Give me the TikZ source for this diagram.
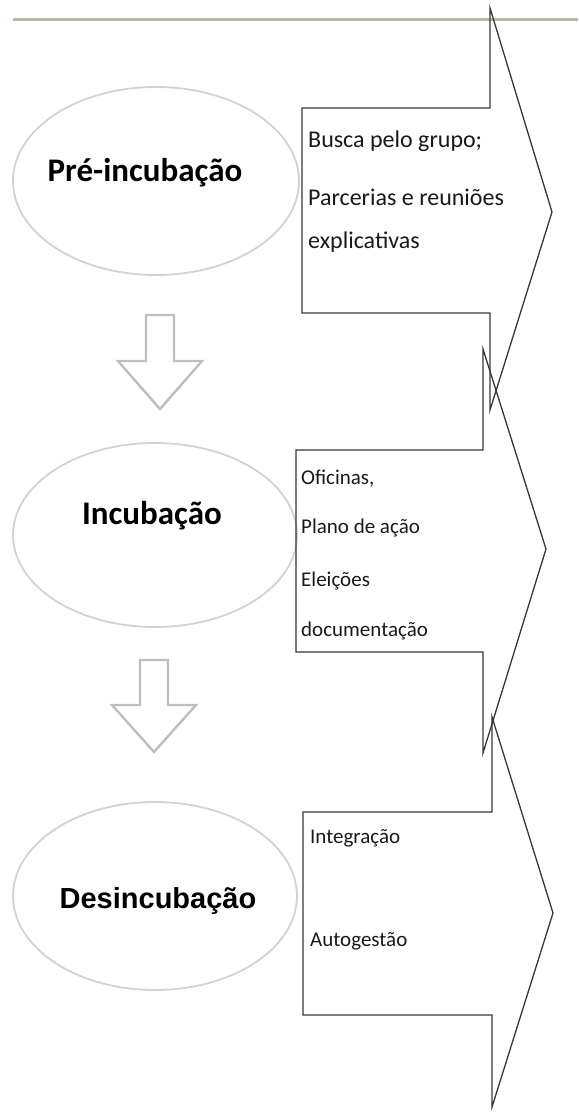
\documentclass[tikz,border=0pt]{standalone}
\usepackage{fontspec}
\setmainfont{Carlito}
\newfontfamily\helvfont{Liberation Sans}
\usetikzlibrary{shapes.geometric, positioning, calc}

\definecolor{rulegray}{RGB}{186,186,164}
\definecolor{ovalgray}{RGB}{210,210,210}
\definecolor{arrowgray}{RGB}{190,190,190}
\definecolor{boxline}{RGB}{55,55,55}
\definecolor{itemtext}{RGB}{25,25,25}

\begin{document}
\begin{tikzpicture}[x=1pt, y=-1pt,
    phase/.style={ellipse, draw=ovalgray, line width=1.8pt, minimum width=286pt, minimum height=188pt, inner sep=0pt},
    phasetext/.style={anchor=base, inner sep=0pt, font=\fontsize{33}{36}\selectfont\bfseries, text=black},
    callout/.style={draw=boxline, line width=1.3pt, line join=miter},
    blockarrow/.style={draw=arrowgray, line width=2.4pt, line join=miter},
    item/.style={anchor=base west, inner sep=0pt, text=itemtext}]
  \useasboundingbox (0,0) rectangle (578,1113);

  % filet du haut
  \draw[rulegray, line width=3pt] (13,20) -- (578,20);

  % Pré-incubação
  \node[phase] (pre) at (156,181) {};
  \node[phasetext] (pretxt) at (145,181) {Pré-incubação};
  \draw[callout] (302,108) -- (490,108) -- (490,8) -- (552,212) -- (490,410) -- (490,313) -- (302,313) -- cycle;
  \node[item, font=\fontsize{24}{26}\selectfont] (busca) at (308,147) {Busca pelo grupo;};
  \node[item, font=\fontsize{24}{26}\selectfont] (parc) at (308,205) {Parcerias e reuniões};
  \node[item, font=\fontsize{24}{26}\selectfont] (expl) at (308,248) {explicativas};

  % flèche 1
  \draw[blockarrow] (146,315) -- (174,315) -- (174,361) -- (202,361) -- (160,409)
    -- (118,361) -- (146,361) -- cycle;

  % Incubação
  \node[phase, minimum width=284pt, minimum height=184pt] (inc) at (155,535) {};
  \node[phasetext] (inctxt) at (152,524) {Incubação};
  \draw[callout] (296,450) -- (483,450) -- (483,349) -- (546,549) -- (483,753) -- (483,652) -- (296,652) -- cycle;
  \node[item, font=\fontsize{21}{24}\selectfont] (ofic) at (301,484) {Oficinas,};
  \node[item, font=\fontsize{21}{24}\selectfont] (plano) at (301,533) {Plano de ação};
  \node[item, font=\fontsize{21}{24}\selectfont] (elei) at (301,586) {Eleições};
  \node[item, font=\fontsize{21}{24}\selectfont] (docu) at (301,636) {documentação};

  % flèche 2
  \draw[blockarrow] (140,660) -- (168,660) -- (168,705) -- (196,705) -- (154,752)
    -- (112,705) -- (140,705) -- cycle;

  % Desincubação
  \node[phase, minimum width=284pt, minimum height=188pt] (des) at (155,896) {};
  \node[phasetext, font=\fontsize{29}{32}\selectfont\helvfont\bfseries] (destxt) at (158,908) {Desincubação};
  \draw[callout] (303,812) -- (492,812) -- (492,717) -- (553,913) -- (492,1107) -- (492,1015) -- (303,1015) -- cycle;
  \node[item, font=\fontsize{21}{24}\selectfont] (integ) at (310,843) {Integração};
  \node[item, font=\fontsize{21}{24}\selectfont] (auto) at (310,946) {Autogestão};
\end{tikzpicture}
\end{document}
